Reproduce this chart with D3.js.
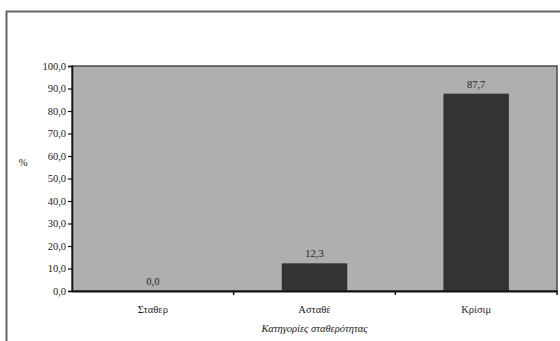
<!DOCTYPE html>
<html>
<head>
<meta charset="utf-8">
<script src="https://cdn.jsdelivr.net/npm/d3@7"></script>
<style>
  html, body { margin: 0; padding: 0; background: #fff; }
  svg { display: block; }
  text { font-family: "Liberation Serif", "Times New Roman", serif; fill: #222; }
</style>
</head>
<body>
<svg id="chart" width="560" height="341"></svg>
<script>
const categories = ["Σταθερ", "Ασταθέ", "Κρίσιμ"];
const values = [0.0, 12.3, 87.7];
const yTicks = [0, 10, 20, 30, 40, 50, 60, 70, 80, 90, 100];
const yLabel = "%";
const xTitle = "Κατηγορίες σταθερότητας";

const svg = d3.select("#chart");
const m = { left: 72, right: 3, top: 66, bottom: 50 };
const W = 560, H = 341;
const fmt = v => d3.format(".1f")(v).replace(".", ",");

// outer frame
svg.append("rect").attr("x", 6.5).attr("y", 11.5).attr("width", 600).attr("height", 400)
  .attr("fill", "none").attr("stroke", "#666").attr("stroke-width", 2);

const xb = d3.scaleBand().domain(categories).range([m.left, W - m.right]);
const y = d3.scaleLinear().domain([0, 100]).range([H - m.bottom, m.top]);
const barW = xb.bandwidth() * 0.405;

// plot area
svg.append("rect")
  .attr("x", m.left).attr("y", m.top)
  .attr("width", W - m.right - m.left).attr("height", H - m.bottom - m.top)
  .attr("fill", "#afafaf").attr("stroke", "#4a4a4a").attr("stroke-width", 1.5);

// bars
svg.selectAll("rect.bar").data(values).join("rect")
  .attr("class", "bar")
  .attr("x", (d, i) => xb(categories[i]) + xb.bandwidth() / 2 - barW / 2)
  .attr("width", barW)
  .attr("y", d => y(d))
  .attr("height", d => y(0) - y(d))
  .attr("fill", "#333333");

// data labels
svg.selectAll("text.val").data(values).join("text")
  .attr("class", "val")
  .attr("x", (d, i) => xb(categories[i]) + xb.bandwidth() / 2)
  .attr("y", d => y(d) - 6)
  .attr("text-anchor", "middle")
  .attr("font-size", 10.5)
  .text(d => fmt(d));

// y axis
const yAxis = svg.append("g").attr("transform", `translate(${m.left},0)`)
  .call(d3.axisLeft(y).tickValues(yTicks).tickSize(4).tickPadding(2).tickFormat(fmt));
yAxis.select(".domain").attr("stroke", "#111").attr("stroke-width", 1.5);
yAxis.selectAll(".tick line").attr("stroke", "#111").attr("stroke-width", 1.2);
yAxis.selectAll(".tick text").attr("font-size", 10.5).attr("font-family", "Liberation Serif").attr("fill", "#222");

// x axis
const xAxis = svg.append("g").attr("transform", `translate(0,${H - m.bottom})`)
  .call(d3.axisBottom(xb).tickSize(0).tickPadding(15));
xAxis.select(".domain").attr("stroke", "#111").attr("stroke-width", 2);
xAxis.selectAll(".tick text").attr("font-size", 10.5).attr("font-family", "Liberation Serif").attr("fill", "#222");
// category boundary ticks
svg.append("g").selectAll("line").data(categories.slice(1).concat(["_end"])).join("line")
  .attr("x1", d => d === "_end" ? W - m.right : xb(d))
  .attr("x2", d => d === "_end" ? W - m.right : xb(d))
  .attr("y1", H - m.bottom).attr("y2", H - m.bottom + 4)
  .attr("stroke", "#111").attr("stroke-width", 1.5);

// y label
svg.append("text").attr("x", 23).attr("y", 166).attr("text-anchor", "middle")
  .attr("font-size", 10.5).text(yLabel);

// x title
svg.append("text").attr("x", (m.left + W - m.right) / 2).attr("y", 332)
  .attr("text-anchor", "middle").attr("font-size", 10.5).attr("font-style", "italic")
  .text(xTitle);
</script>
</body>
</html>
